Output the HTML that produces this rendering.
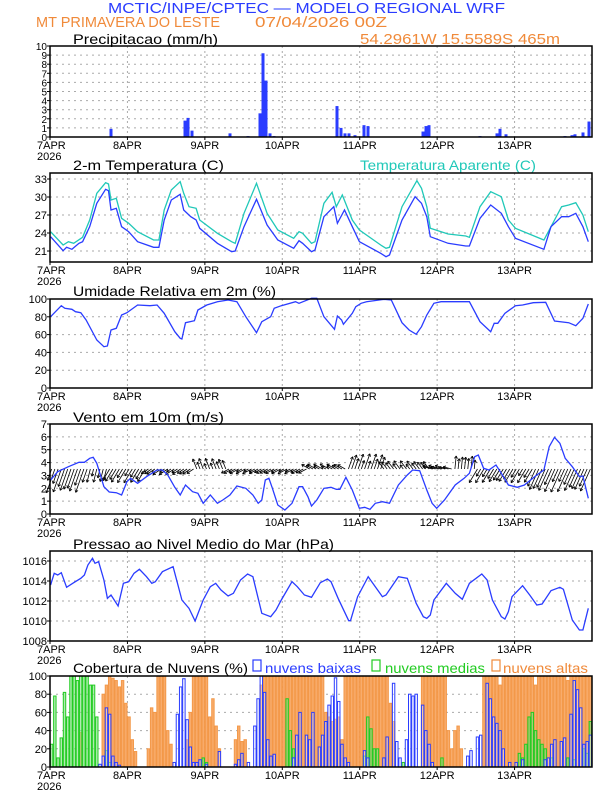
<!DOCTYPE html>
<html><head><meta charset="utf-8"><style>
html,body{margin:0;padding:0;background:#fff;}
svg{display:block;font-family:"Liberation Sans",sans-serif;}
</style></head><body>
<svg id="s" width="612" height="792" viewBox="0 0 612 792" xmlns="http://www.w3.org/2000/svg">
<rect width="612" height="792" fill="#fff"/>
<text x="108" y="13" font-size="15" fill="#2a3cff" textLength="397" lengthAdjust="spacingAndGlyphs">MCTIC/INPE/CPTEC — MODELO REGIONAL WRF</text>
<text x="36" y="27" font-size="15" fill="#f08a3a" textLength="184" lengthAdjust="spacingAndGlyphs">MT PRIMAVERA DO LESTE</text>
<text x="255" y="27" font-size="15" fill="#f08a3a" textLength="132" lengthAdjust="spacingAndGlyphs">07/04/2026 00Z</text>
<text x="360" y="44" font-size="15" fill="#f08a3a" textLength="200" lengthAdjust="spacingAndGlyphs">54.2961W 15.5589S 465m</text>
<g font-size="14" fill="#000">
<text x="73" y="44" textLength="145" lengthAdjust="spacingAndGlyphs">Precipitacao (mm/h)</text>
<text x="73" y="170" textLength="151" lengthAdjust="spacingAndGlyphs">2-m Temperatura (C)</text>
<text x="360" y="170" fill="#20c8b8" textLength="176" lengthAdjust="spacingAndGlyphs">Temperatura Aparente (C)</text>
<text x="73" y="296" textLength="203" lengthAdjust="spacingAndGlyphs">Umidade Relativa em 2m (%)</text>
<text x="73" y="422" textLength="151" lengthAdjust="spacingAndGlyphs">Vento em 10m (m/s)</text>
<text x="73" y="549" textLength="261" lengthAdjust="spacingAndGlyphs">Pressao ao Nivel Medio do Mar (hPa)</text>
<text x="73" y="673" textLength="175" lengthAdjust="spacingAndGlyphs">Cobertura de Nuvens (%)</text>
<rect x="253" y="660" width="8" height="11" fill="none" stroke="#2a3cff" stroke-width="1.2"/>
<text x="265" y="673" fill="#2a3cff" textLength="96" lengthAdjust="spacingAndGlyphs">nuvens baixas</text>
<rect x="372" y="660" width="8" height="11" fill="none" stroke="#22cc22" stroke-width="1.2"/>
<text x="385" y="673" fill="#22cc22" textLength="100" lengthAdjust="spacingAndGlyphs">nuvens medias</text>
<rect x="492" y="660" width="8" height="11" fill="none" stroke="#f08a3a" stroke-width="1.2"/>
<text x="503" y="673" fill="#f08a3a" textLength="85" lengthAdjust="spacingAndGlyphs">nuvens altas</text>
</g>
<g id="dyn"></g>
</svg>
<script>
const NS="http://www.w3.org/2000/svg";const g=document.getElementById('dyn');
function el(t,a,txt){const e=document.createElementNS(NS,t);for(const k in a)e.setAttribute(k,a[k]);if(txt!==undefined)e.textContent=txt;g.appendChild(e);return e;}
const X0=50,X1=592,DW=(X1-X0)/7,HW=DW/24;
const panels=[
 {t:46,b:137,min:0,max:10,ticks:[0,1,2,3,4,5,6,7,8,9,10]},
 {t:173,b:262,min:19.17,max:34,ticks:[21,24,27,30,33]},
 {t:299,b:388,min:0,max:100,ticks:[0,20,40,60,80,100]},
 {t:424,b:514,min:0,max:7,ticks:[0,1,2,3,4,5,6,7]},
 {t:551,b:641,min:1008,max:1017,ticks:[1008,1010,1012,1014,1016]},
 {t:676,b:767,min:0,max:100,ticks:[0,20,40,60,80,100]}];
const days=["7APR","8APR","9APR","10APR","11APR","12APR","13APR"];
function Y(p,v){return p.b-(v-p.min)/(p.max-p.min)*(p.b-p.t);}
function frame(p,i){
 for(let d=1;d<7;d++)el('line',{x1:X0+d*DW,x2:X0+d*DW,y1:p.t,y2:p.b,stroke:'#aaa','stroke-dasharray':'2,3','stroke-width':1});
 p.ticks.forEach(v=>{const y=Y(p,v);if(v!==p.ticks[0]||y<p.b-2)el('line',{x1:X0,x2:X1,y1:y,y2:y,stroke:'#aaa','stroke-dasharray':'2,4','stroke-width':1});
  el('line',{x1:X0-3,x2:X0,y1:y,y2:y,stroke:'#000'});
  el('text',{x:X0-3,y:y+4,'font-size':i==0?10:11,'text-anchor':'end'},String(v));});
 days.forEach((d,k)=>{const x=X0+k*DW;el('line',{x1:x,x2:x,y1:p.b,y2:p.b+3,stroke:'#000'});
  el('text',{x:k==0?37:x,y:p.b+12,'font-size':11,'text-anchor':k==0?'start':'middle'},d);});
 el('text',{x:37,y:p.b+23,'font-size':11},"2026");
}
function drawFrame(p){el('rect',{x:X0,y:p.t,width:X1-X0,height:p.b-p.t,fill:'none',stroke:'#000','stroke-width':1.5});}
panels.forEach(frame);
const pr=[[111,0.9],[185,1.8],[188,2.1],[192,0.7],[230,0.4],[248,0.1],[260,2.6],[263,9.2],[266,6.2],[270,0.4],[274,0.1],[337,3.4],[341,1.0],[345,0.4],[349,0.4],[355,0.2],[364,1.3],[368,1.2],[423,0.6],[426,1.2],[429,1.3],[480,0.1],[497,0.4],[500,0.9],[506,0.3],[565,0.1],[572,0.2],[575,0.3],[583,0.5],[589,1.7]];
pr.forEach(([x,v])=>{const p=panels[0];el('rect',{x:x-1.5,y:Y(p,v),width:3,height:p.b-Y(p,v),fill:'#2a3cff'});});
const KX=2.818;
function line(pts,ox,oy,col,w){el('polyline',{points:pts.map(([a,b])=>(ox+a/KX).toFixed(1)+','+(oy+b/3).toFixed(1)).join(' '),fill:'none',stroke:col,'stroke-width':w||1.3});}
const cy=[[30,215],[65,255],[80,245],[95,250],[120,232],[140,180],[160,100],[185,68],[193,72],[200,120],[215,115],[230,175],[250,190],[275,215],[320,240],[335,240],[350,150],[370,90],[395,65],[405,100],[420,140],[440,145],[450,180],[500,220],[540,245],[550,250],[575,160],[610,70],[640,160],[670,210],[715,235],[730,215],[740,220],[765,250],[775,245],[800,130],[823,97],[835,140],[852,105],[880,180],[900,210],[960,255],[975,265],[985,262],[1020,140],[1062,62],[1075,85],[1090,140],[1100,205],[1150,222],[1200,228],[1210,232],[1240,140],[1270,95],[1300,110],[1320,180],[1340,205],[1420,240],[1440,200],[1470,140],[1490,135],[1510,128],[1530,165],[1545,215]];
const bt=[[30,230],[65,272],[75,262],[90,268],[110,250],[120,245],[140,200],[160,130],[185,88],[193,92],[200,150],[215,145],[230,200],[250,215],[275,245],[320,262],[335,262],[350,180],[370,120],[395,103],[405,150],[425,170],[440,180],[450,205],[500,250],[540,275],[550,273],[575,200],[610,118],[640,195],[670,240],[715,265],[730,242],[740,250],[765,275],[775,270],[800,170],[828,140],[838,190],[858,150],[880,200],[900,245],[960,280],[975,290],[985,285],[1020,180],[1057,110],[1075,130],[1090,170],[1100,230],[1150,250],[1200,258],[1210,258],[1240,175],[1270,135],[1300,160],[1320,200],[1340,235],[1420,268],[1440,200],[1470,170],[1490,170],[1510,160],[1530,200],[1545,245]];
line(cy,40,160,'#20c8b8');line(bt,40,160,'#2a3cff');
const rh=[[30,470],[60,437],[70,445],[90,448],[100,455],[115,458],[130,480],[160,540],[180,560],[190,558],[200,510],[215,505],[230,465],[245,458],[275,435],[310,437],[330,435],[350,460],[380,515],[395,535],[400,537],[410,488],[435,482],[445,450],[470,435],[500,425],[530,420],[555,425],[580,470],[610,518],[625,485],[650,470],[660,445],[680,437],[720,425],[730,430],[765,415],[780,415],[800,470],[830,508],[838,468],[850,480],[855,493],[880,460],[890,440],[905,430],[920,425],[970,418],[990,420],[1020,488],[1040,510],[1060,523],[1075,500],[1090,465],[1110,430],[1130,425],[1210,425],[1240,485],[1270,515],[1280,490],[1290,490],[1310,460],[1340,437],[1360,435],[1390,428],[1425,427],[1450,483],[1490,488],[1510,497],[1530,475],[1545,432]];
line(rh,40,160,'#2a3cff');
const wb=Y(panels[3],3.5);
function ang(h){
 const segs=[[0,12,-0.35,1,22],[12,18,-0.25,1,12],[18,30,-0.6,1,14],[30,45,-0.9,0.6,9],[45,55,-0.4,-1,10],[55,80,-0.95,0.5,9],[80,92,-0.9,-0.5,9],[92,103,0.35,-1,14],[103,118,-0.6,-0.8,9],[118,125,-0.97,-0.25,12],[125,132,0.1,-1,12],[132,150,-0.6,1,14],[150,168,-0.45,1,22]];
 for(const s of segs)if(h>=s[0]&&h<s[1])return [s[2],s[3],s[4]];return [0,1,5];}
for(let h=0;h<168;h++){const x=X0+h*HW+HW/2;let [dx,dy,L]=ang(h);L=L*(0.55+0.6*Math.abs(Math.sin(h*1.7)));const n=Math.hypot(dx,dy);dx=dx/n*L;dy=dy/n*L;
 const ex=x+dx,ey=wb+dy;el('line',{x1:x,y1:wb,x2:ex,y2:ey,stroke:'#000','stroke-width':0.8});
 const a=Math.atan2(dy,dx);[2.6,-2.6].forEach(o=>el('line',{x1:ex,y1:ey,x2:ex+3*Math.cos(a+o),y2:ey+3*Math.sin(a+o),stroke:'#000','stroke-width':0.8}));}
const ws=[[30,240],[50,215],[80,200],[110,187],[125,187],[140,175],[150,172],[160,190],[180,260],[195,276],[215,278],[230,285],[245,245],[255,235],[275,250],[300,230],[330,210],[345,210],[360,225],[380,262],[395,285],[410,255],[430,275],[445,280],[460,310],[480,285],[500,310],[515,300],[535,285],[555,258],[580,265],[600,285],[615,310],[625,300],[635,240],[645,235],[655,265],[670,315],[690,330],[710,310],[730,260],[740,260],[755,290],[765,318],[780,300],[800,265],[820,262],[835,268],[845,268],[862,232],[880,270],[900,325],[915,322],[930,328],[945,310],[965,305],[985,310],[1010,255],[1035,225],[1050,210],[1070,212],[1090,270],[1105,310],[1118,325],[1140,300],[1170,255],[1195,235],[1210,220],[1225,170],[1235,165],[1250,205],[1265,210],[1285,195],[1300,220],[1320,255],[1345,262],[1365,255],[1400,225],[1420,210],[1435,140],[1450,112],[1465,130],[1480,175],[1500,200],[1520,230],[1530,228],[1545,295]];
line(ws,40,400,'#2a3cff');
const ps=[[30,555],[40,520],[50,525],[60,518],[75,562],[95,548],[115,535],[125,525],[135,495],[148,475],[155,490],[165,485],[180,540],[190,595],[200,585],[220,618],[235,550],[250,545],[265,520],[280,508],[300,530],[315,550],[325,545],[345,515],[375,500],[400,600],[420,625],[437,663],[460,600],[480,560],[495,550],[510,570],[530,588],[545,580],[565,540],[585,522],[600,530],[625,640],[650,650],[665,630],[680,600],[710,545],[725,560],[745,585],[765,592],[790,548],[810,537],[820,545],[840,595],[870,662],[875,662],[895,590],[925,530],[945,560],[965,590],[975,585],[1010,530],[1035,535],[1060,610],[1080,650],[1090,655],[1100,645],[1110,600],[1145,550],[1170,580],[1190,598],[1210,550],[1245,522],[1260,540],[1275,600],[1300,650],[1310,657],[1320,635],[1330,590],[1360,557],[1380,585],[1400,615],[1415,612],[1440,572],[1465,562],[1475,568],[1500,660],[1520,690],[1530,690],[1545,625]];
line(ps,40,400,'#2a3cff');
function arr(list){const a=new Array(168).fill(0);list.forEach(([h,v])=>{const i=Math.round(h);if(i>=0&&i<168)a[i]=v;});return a;}
function interp(list){const a=new Array(168).fill(0);for(let i=0;i<list.length-1;i++){const [h0,v0]=list[i],[h1,v1]=list[i+1];for(let h=Math.ceil(h0);h<=h1&&h<168;h++)a[h]=v0+(v1-v0)*(h-h0)/((h1-h0)||1);}return a;}
const orange=interp([[0,0],[15,0],[16,80],[17,90],[18,100],[20,95],[21,88],[22,95],[23,70],[24,55],[25,30],[26,17],[27,0],[29,0],[30,20],[31,65],[32,60],[33,100],[35,100],[36,40],[37,25],[38,0],[41,0],[42,30],[43,60],[44,100],[48,100],[49,55],[50,75],[51,45],[52,20],[53,0],[56,0],[57,30],[58,45],[59,28],[60,30],[61,0],[64,0],[65,90],[66,100],[84,100],[85,60],[87,50],[89,55],[90,30],[91,100],[104,100],[105,70],[106,50],[107,0],[114,0],[115,100],[122,100],[123,40],[124,20],[125,40],[126,45],[127,20],[128,0],[133,0],[134,100],[138,100],[139,90],[140,100],[167,100]]);
orange[9]=38;orange[150]=90;orange[160]=95;
const green=arr([[0,25],[1,78],[2,10],[3,32],[4,82],[5,55],[6,100],[7,100],[8,95],[9,100],[10,100],[11,100],[12,90],[13,90],[14,55],[17,18],[18,5],[47,10],[48,5],[73,75],[74,40],[75,20],[97,12],[98,55],[99,42],[100,20],[101,20],[109,5],[121,10],[145,15],[146,10],[147,25],[148,55],[149,60],[150,40],[151,30],[152,25],[153,20],[155,10],[160,10],[162,8],[165,20],[166,15],[167,50]]);
const zb2=[[295,3],[305,12],[315,65],[325,58],[335,12],[345,5],[355,2],[520,5],[530,58],[540,88],[550,97],[560,52],[570,22],[580,5],[590,5],[600,8],[610,3],[655,17],[700,3],[710,8],[720,15],[745,5],[755,45],[765,75],[775,100],[785,82],[795,30],[810,12],[820,14],[880,12],[890,43],[900,57]].map(([z,v])=>[(z-150)/9.68,v]);
const zb5=[[5,10],[15,35],[25,60],[40,35],[55,30],[65,60],[80,22],[95,35],[105,50],[115,68],[125,78],[135,98],[145,72],[155,25],[165,10],[175,5],[215,18],[225,10],[280,10],[290,33],[310,92],[320,28],[330,10],[340,30],[350,80],[360,78],[375,80],[390,68],[400,40],[410,25],[420,5],[530,12],[540,18],[555,33],[570,35],[585,92],[595,75],[605,55],[615,48],[625,40],[635,20],[650,5],[670,5],[690,8],[760,8],[770,10],[780,25],[790,30],[805,28],[820,32],[835,58],[845,95],[855,85],[870,65],[880,25],[890,28],[900,35]].map(([z,v])=>[74.4+z/9.68,v]);
const blue=arr(zb2.concat(zb5));
const P=panels[5];
function bars(a,fill,stroke,fo){a.forEach((v,h)=>{if(v<=0)return;const y=Y(P,v);el('rect',{x:X0+h*HW+0.4,y:y,width:HW-0.8,height:P.b-y,fill:fill,'fill-opacity':fo,stroke:stroke,'stroke-width':1});});}
bars(orange,'#f8ac6c','#f39848',1);
bars(green,'#7be07b','#22cc22',0.6);
bars(blue,'#ffffff','#2a3cff',0.35);
panels.forEach(drawFrame);
</script>
</body></html>
